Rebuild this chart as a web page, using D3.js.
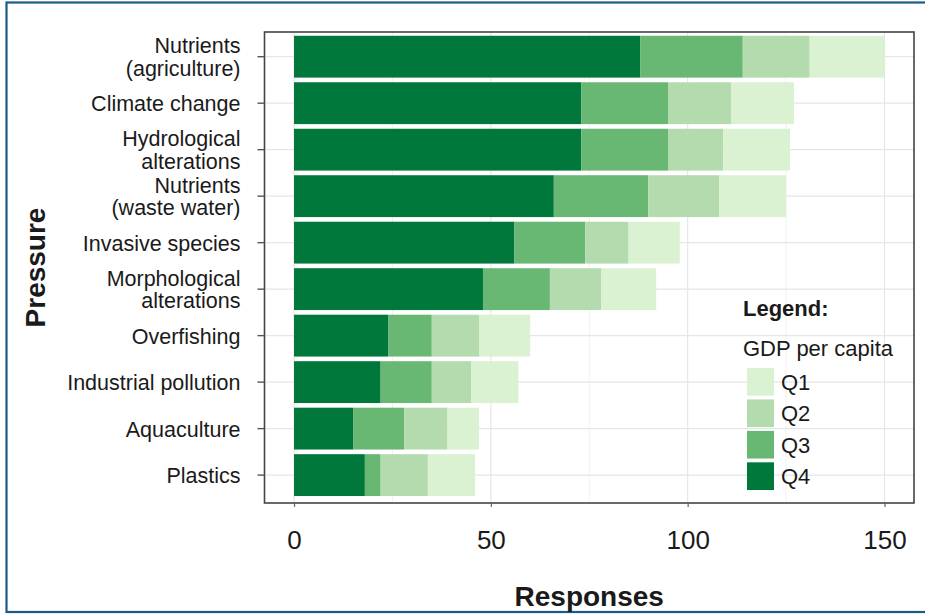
<!DOCTYPE html>
<html>
<head>
<meta charset="utf-8">
<script src="https://cdn.jsdelivr.net/npm/d3@7"></script>
<style>
  html, body { margin: 0; padding: 0; background: #ffffff; }
  svg { display: block; }
  text { font-family: "Liberation Sans", Arial, sans-serif; }
</style>
</head>
<body>
<svg id="chart" width="925" height="615"></svg>
<script>
// ---- data ----
const categories = [
  "Nutrients\n(agriculture)",
  "Climate change",
  "Hydrological\nalterations",
  "Nutrients\n(waste water)",
  "Invasive species",
  "Morphological\nalterations",
  "Overfishing",
  "Industrial pollution",
  "Aquaculture",
  "Plastics"
];
const q4 = [88, 73, 73, 66, 56, 48, 24, 22, 15, 18];
const q3 = [26, 22, 22, 24, 18, 17, 11, 13, 13, 4];
const q2 = [17, 16, 14, 18, 11, 13, 12, 10, 11, 12];
const q1 = [19, 16, 17, 17, 13, 14, 13, 12, 8, 12];
const seriesKeys = ["Q4", "Q3", "Q2", "Q1"];
const legendKeys = ["Q1", "Q2", "Q3", "Q4"];
const xTicks = [0, 50, 100, 150];
const xMinorTicks = [25, 75, 125];
const colors = { Q1: "#daf1d2", Q2: "#b3dbae", Q3: "#68b773", Q4: "#00773b" };

const rows = categories.map((c, i) => ({ cat: c, Q4: q4[i], Q3: q3[i], Q2: q2[i], Q1: q1[i] }));

// ---- layout ----
const svg = d3.select("#chart");
const panel = { left: 264.5, right: 914, top: 32, bottom: 503 };

const x = d3.scaleLinear().domain([-7.5, 157.5]).range([panel.left, panel.right]);
const y = d3.scaleBand().domain(categories).range([28.8, 503]).paddingInner(0.1).paddingOuter(0.15);

// outer frame
svg.append("rect").attr("x", 6.5).attr("y", 2.5).attr("width", 940).attr("height", 609.5)
  .attr("fill", "#ffffff").attr("stroke", "#1b5b86").attr("stroke-width", 2.2);

// gridlines
const grid = svg.append("g");
grid.selectAll("line.minor").data(xMinorTicks).join("line")
  .attr("x1", d => x(d)).attr("x2", d => x(d))
  .attr("y1", panel.top).attr("y2", panel.bottom)
  .attr("stroke", "#f1f1f1").attr("stroke-width", 1);
grid.selectAll("line.major").data(xTicks).join("line")
  .attr("x1", d => x(d)).attr("x2", d => x(d))
  .attr("y1", panel.top).attr("y2", panel.bottom)
  .attr("stroke", "#e6e6e6").attr("stroke-width", 1.2);
grid.selectAll("line.h").data(categories).join("line")
  .attr("x1", panel.left).attr("x2", panel.right)
  .attr("y1", d => y(d) + y.bandwidth() / 2).attr("y2", d => y(d) + y.bandwidth() / 2)
  .attr("stroke", "#e6e6e6").attr("stroke-width", 1.2);

// bars
const stacked = d3.stack().keys(seriesKeys)(rows);
svg.append("g").selectAll("g").data(stacked).join("g")
  .attr("fill", d => colors[d.key])
  .selectAll("rect").data(d => d).join("rect")
  .attr("x", d => x(d[0]))
  .attr("width", d => x(d[1]) - x(d[0]))
  .attr("y", d => y(d.data.cat))
  .attr("height", y.bandwidth());

// panel border
svg.append("rect").attr("x", panel.left).attr("y", panel.top)
  .attr("width", panel.right - panel.left).attr("height", panel.bottom - panel.top)
  .attr("fill", "none").attr("stroke", "#444").attr("stroke-width", 1.6);

// y axis
const yAxis = d3.axisLeft(y).tickSize(7).tickPadding(17).tickFormat("");
const yg = svg.append("g").attr("transform", `translate(${panel.left},0)`).call(yAxis);
yg.select(".domain").remove();
yg.selectAll(".tick line").attr("stroke", "#555").attr("stroke-width", 1.4);
yg.selectAll(".tick").each(function(d) {
  const lines = d.split("\n");
  const t = d3.select(this).append("text")
    .attr("x", -24).attr("fill", "#1a1a1a").attr("font-size", 21.5)
    .attr("text-anchor", "end");
  const lh = 22.5;
  lines.forEach((ln, i) => {
    t.append("tspan").attr("x", -24)
      .attr("y", (i - (lines.length - 1) / 2) * lh + 8)
      .text(ln);
  });
});

// x axis
const xAxis = d3.axisBottom(x).tickValues(xTicks).tickSize(4).tickPadding(24).tickFormat(d3.format("d"));
const xg = svg.append("g").attr("transform", `translate(0,${panel.bottom})`).call(xAxis);
xg.select(".domain").remove();
xg.selectAll(".tick line").attr("stroke", "#666").attr("stroke-width", 1.2);
xg.selectAll(".tick text").attr("font-size", 26).attr("fill", "#1a1a1a")
  .attr("font-family", "Liberation Sans, Arial, sans-serif");

// axis titles
svg.append("text").attr("x", (panel.left + panel.right) / 2).attr("y", 606)
  .attr("text-anchor", "middle").attr("font-size", 28).attr("font-weight", "bold")
  .attr("fill", "#1a1a1a").text("Responses");
svg.append("text")
  .attr("transform", `translate(45,${(panel.top + panel.bottom) / 2}) rotate(-90)`)
  .attr("text-anchor", "middle").attr("font-size", 28).attr("font-weight", "bold")
  .attr("fill", "#1a1a1a").text("Pressure");

// legend
const lg = svg.append("g").attr("transform", "translate(743,0)");
lg.append("text").attr("x", 0).attr("y", 316).attr("font-size", 22).attr("font-weight", "bold")
  .attr("fill", "#1a1a1a").text("Legend:");
lg.append("text").attr("x", 0).attr("y", 356).attr("font-size", 22)
  .attr("fill", "#1a1a1a").text("GDP per capita");
const ly = d3.scaleBand().domain(legendKeys).range([368, 490]).paddingInner(0.12);
lg.selectAll("rect.key").data(legendKeys).join("rect")
  .attr("x", 4).attr("y", d => ly(d)).attr("width", 27).attr("height", ly.bandwidth())
  .attr("fill", d => colors[d]);
lg.selectAll("text.lab").data(legendKeys).join("text")
  .attr("x", 38).attr("y", d => ly(d) + ly.bandwidth() / 2 + 8)
  .attr("font-size", 22).attr("fill", "#1a1a1a").text(d => d);
</script>
</body>
</html>
